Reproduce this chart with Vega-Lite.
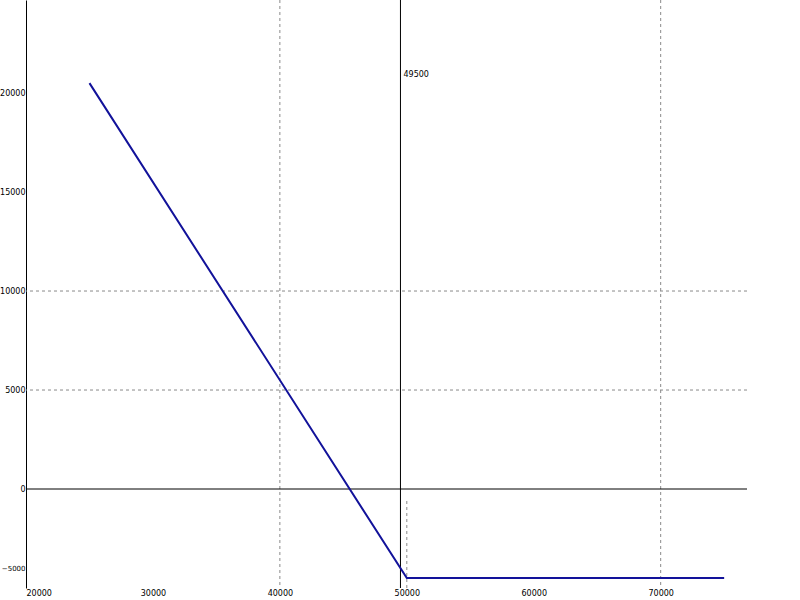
{
  "$schema": "https://vega.github.io/schema/vega-lite/v6.json",
  "width": 721,
  "height": 588,
  "autosize": {"type": "none"},
  "padding": {"left": 26, "right": 53, "top": 0, "bottom": 12},
  "background": "white",
  "view": {"stroke": null},
  "config": {"font": "DejaVu Sans"},
  "datasets": {
    "payoff": [
      {"price": 25000, "pl": 20500},
      {"price": 50000, "pl": -4500},
      {"price": 75000, "pl": -4500}
    ],
    "hgrid": [{"pl": 5000}, {"pl": 10000}],
    "vgrid": [{"price": 40000}, {"price": 70000}],
    "vgridpart": [{"price": 50000, "pl": -5000, "pl2": -500}],
    "zero": [{"pl": 0}],
    "spot": [{"price": 49500, "pl": 20900, "label": "49500"}]
  },
  "layer": [
    {
      "data": {"name": "hgrid"},
      "mark": {"type": "rule", "color": "#8a8a8a", "strokeDash": [3, 3], "strokeWidth": 1},
      "encoding": {"y": {"field": "pl", "type": "quantitative"}}
    },
    {
      "data": {"name": "vgrid"},
      "mark": {"type": "rule", "color": "#8a8a8a", "strokeDash": [3, 3], "strokeWidth": 1},
      "encoding": {"x": {"field": "price", "type": "quantitative"}}
    },
    {
      "data": {"name": "vgridpart"},
      "mark": {"type": "rule", "color": "#8a8a8a", "strokeDash": [3, 3], "strokeWidth": 1},
      "encoding": {
        "x": {"field": "price", "type": "quantitative"},
        "y": {"field": "pl", "type": "quantitative"},
        "y2": {"field": "pl2"}
      }
    },
    {
      "data": {"name": "zero"},
      "mark": {"type": "rule", "color": "black", "strokeWidth": 1},
      "encoding": {"y": {"field": "pl", "type": "quantitative"}}
    },
    {
      "data": {"name": "spot"},
      "mark": {"type": "rule", "color": "black", "strokeWidth": 1},
      "encoding": {"x": {"field": "price", "type": "quantitative"}}
    },
    {
      "data": {"name": "spot"},
      "mark": {"type": "text", "align": "left", "baseline": "middle", "dx": 3, "fontSize": 8, "color": "black"},
      "encoding": {
        "x": {"field": "price", "type": "quantitative"},
        "y": {"field": "pl", "type": "quantitative"},
        "text": {"field": "label"}
      }
    },
    {
      "data": {"name": "payoff"},
      "mark": {"type": "line", "color": "#12129a", "strokeWidth": 2},
      "encoding": {
        "x": {
          "field": "price",
          "type": "quantitative",
          "scale": {"domain": [20000, 76800], "nice": false, "zero": false},
          "axis": {
            "title": null,
            "values": [20000, 30000, 40000, 50000, 60000, 70000],
            "format": "d",
            "grid": false,
            "domain": false,
            "ticks": false,
            "labelFontSize": 8,
            "labelColor": "black",
            "labelPadding": 1,
            "labelFlush": true
          }
        },
        "y": {
          "field": "pl",
          "type": "quantitative",
          "scale": {"domain": [-5000, 24700], "nice": false, "zero": false},
          "axis": {
            "title": null,
            "values": [-5000, 0, 5000, 10000, 15000, 20000],
            "format": "d",
            "grid": false,
            "domain": true,
            "domainColor": "black",
            "domainWidth": 1,
            "ticks": false,
            "labelFontSize": {"condition": {"test": "datum.value === -5000", "value": 7}, "value": 8},
            "labelColor": "black",
            "labelPadding": 1,
            "labelFlush": false,
            "labelOffset": {"condition": {"test": "datum.value === -5000", "value": -20}, "value": 0}
          }
        }
      }
    }
  ]
}
